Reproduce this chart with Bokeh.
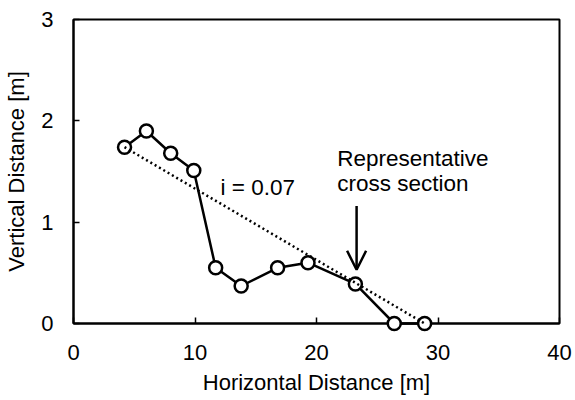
from bokeh.plotting import figure
from bokeh.models import Range1d, FixedTicker, Label, Arrow, OpenHead
from bokeh.embed import file_html
from bokeh.resources import INLINE

# Data
x_dist = [4.2, 6.0, 8.0, 9.9, 11.7, 13.8, 16.8, 19.3, 23.2, 26.4, 28.9]
y_dist = [1.74, 1.90, 1.68, 1.51, 0.55, 0.37, 0.55, 0.60, 0.39, 0.0, 0.0]
trend_x = [4.2, 28.9]
trend_y = [1.74, 0.0]
x_ticks = [0, 10, 20, 30, 40]
y_ticks = [0, 1, 2, 3]
slope_label = "i = 0.07"
section_lines = ["Representative", "cross section"]
arrow_x = 23.3
arrow_y = [1.16, 0.53]

FONT = "Liberation Sans"
FS = "22px"
FS_NOTE = "22.5px"

p = figure(width=575, height=400, output_backend="svg", toolbar_location=None,
           x_range=Range1d(0, 40), y_range=Range1d(0, 3),
           min_border_left=73, min_border_right=16, min_border_top=19, min_border_bottom=77)
p.background_fill_color = "white"
p.border_fill_color = "white"
p.outline_line_color = "black"
p.outline_line_width = 2
p.grid.visible = False

p.xaxis.ticker = FixedTicker(ticks=x_ticks)
p.yaxis.ticker = FixedTicker(ticks=y_ticks)
p.xaxis.axis_label = "Horizontal Distance [m]"
p.yaxis.axis_label = "Vertical Distance [m]"
for ax in (p.xaxis, p.yaxis):
    ax.axis_line_color = "black"
    ax.axis_line_width = 2
    ax.major_tick_in = 6
    ax.major_tick_out = 0
    ax.major_tick_line_width = 1.5
    ax.major_tick_line_color = "black"
    ax.minor_tick_line_color = None
    ax.major_label_text_font = FONT
    ax.major_label_text_font_size = FS
    ax.major_label_text_color = "black"
    ax.axis_label_text_font = FONT
    ax.axis_label_text_font_size = FS
    ax.axis_label_text_font_style = "normal"
    ax.axis_label_text_color = "black"
p.xaxis.major_label_standoff = 21
p.xaxis.axis_label_standoff = 7
p.yaxis.major_label_standoff = 20
p.yaxis.axis_label_standoff = 9

p.line(x_dist, y_dist, line_color="black", line_width=2.5, level="overlay")
p.scatter(x_dist, y_dist, marker="circle", size=13, fill_color="white",
          line_color="black", line_width=2.5, level="overlay")
p.line(trend_x, trend_y, line_color="black", line_width=2.5, line_dash="2 3", level="overlay")

p.add_layout(Label(x=12.1, y=1.34, text=slope_label, text_font=FONT, text_font_size=FS_NOTE,
                   text_color="black", text_baseline="alphabetic"))
p.add_layout(Label(x=21.7, y=1.63, text=section_lines[0], text_font=FONT, text_font_size=FS_NOTE,
                   text_color="black", text_baseline="alphabetic"))
p.add_layout(Label(x=21.7, y=1.38, text=section_lines[1], text_font=FONT, text_font_size=FS_NOTE,
                   text_color="black", text_baseline="alphabetic"))
p.add_layout(Arrow(x_start=arrow_x, y_start=arrow_y[0], x_end=arrow_x, y_end=arrow_y[1],
                   line_color="black", line_width=2.5,
                   end=OpenHead(size=19, line_color="black", line_width=2.5)))

open("out.html", "w").write(file_html(p, INLINE))
